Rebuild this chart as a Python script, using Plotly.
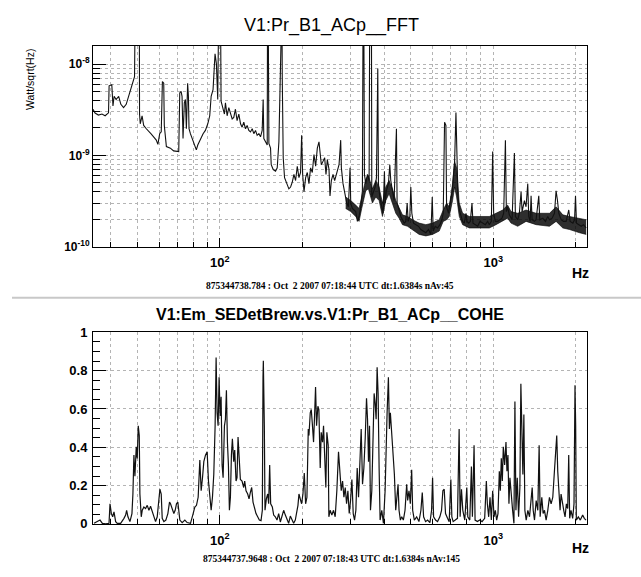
import plotly.graph_objects as go

# ---------------- FFT spectrum (top panel) ----------------
fft_freq = [
    34.4, 35.0, 36.0, 37.1, 38.1, 38.9, 39.2, 39.4, 40.3, 40.7,
    41.1, 41.8, 42.7, 43.5, 44.5, 45.5, 46.4, 47.3, 48.1, 48.4,
    48.8, 49.1, 50.8, 50.9, 51.2, 52.0, 52.7, 53.9, 55.0, 56.0,
    57.3, 58.6, 59.4, 60.3, 61.1, 61.7, 62.4, 62.7, 63.8, 66.0,
    67.8, 69.4, 70.8, 71.4, 72.2, 72.8, 73.4, 74.2, 74.9, 75.5,
    76.3, 76.8, 77.2, 78.1, 79.2, 80.8, 82.1, 83.1, 85.0, 86.9,
    88.6, 90.4, 91.9, 93.0, 94.5, 95.6, 96.1, 97.2, 98.3, 99.2,
    100.6, 101.1, 102.8, 104.0, 104.9, 106.4, 107.9, 109.4, 111.0, 112.5,
    114.1, 115.7, 117.4, 119.1, 120.7, 122.4, 124.2, 125.9, 127.7, 129.5,
    131.4, 133.2, 135.1, 137.0, 139.0, 140.9, 142.9, 144.1, 144.9, 147.0,
    149.1, 149.5, 150.3, 151.2, 153.3, 154.2, 156.8, 159.9, 162.2, 164.5,
    165.9, 167.3, 168.7, 169.2, 170.6, 172.5, 175.5, 178.9, 181.5, 184.1,
    186.7, 189.3, 192.0, 194.7, 197.4, 199.2, 200.9, 203.2, 206.0, 208.9,
    211.8, 214.8, 217.9, 221.0, 224.1, 227.3, 230.5, 232.4, 235.1, 238.4,
    241.8, 244.5, 247.3, 250.8, 252.9, 255.8, 259.4, 263.0,
    269.0, 272.9, 276.7, 278.3, 282.2, 287.1, 291.1, 295.2, 299.4, 301.1,
    305.3, 309.6, 314.0, 318.5, 323.0, 327.6, 332.2, 334.1, 336.0, 337.9,
    341.7, 346.6, 351.5, 353.4, 358.4, 359.5, 363.5, 369.7, 373.9, 378.1,
    380.2, 384.6, 391.1, 395.5, 399.9, 402.2, 406.7, 413.6, 418.3, 421.8,
    427.8, 433.8, 442.4, 444.9, 452.5, 458.9, 465.4, 472.1, 478.7, 484.2,
    488.2, 495.2, 499.3, 503.6, 510.7, 520.8, 532.7, 543.3, 554.1, 566.7,
    579.6, 591.1, 597.9, 602.9, 613.2, 625.4, 637.8, 648.6, 655.9, 663.3,
    670.9, 674.7, 686.1, 694.0, 705.8, 713.8, 721.9, 730.0, 736.2, 742.5,
    750.8, 761.5, 772.3, 783.3, 794.3, 801.0, 812.4, 823.9, 835.6, 842.6,
    859.4, 876.5, 893.9, 914.2, 934.9, 953.5, 966.7, 983.3, 994.5, 1002.8,
    1017, 1037, 1058, 1076, 1091, 1107, 1116, 1128, 1144, 1171,
    1194, 1204, 1228, 1245, 1263, 1274, 1299, 1317, 1336, 1347,
    1363, 1374, 1386, 1413, 1433, 1466, 1478, 1516, 1551, 1581,
    1604, 1640, 1673, 1696, 1716, 1735, 1770, 1805, 1845, 1887,
    1909, 1953, 1981, 1997, 2014, 2054, 2095, 2136, 2185,
]
fft_amp = [
    3.21e-9, 2.91e-9, 2.77e-9, 2.84e-9, 2.72e-9, 2.84e-9, 2.93e-9, 5.79e-9, 5.94e-9, 3.48e-9,
    4.45e-9, 4.10e-9, 4.45e-9, 3.63e-9, 3.34e-9, 3.63e-9, 4.45e-9, 5.25e-9, 6.19e-9, 7.00e-9,
    7.29e-9, 5e-8, 5e-8, 2.84e-9, 2.22e-9, 2.72e-9, 2.13e-9, 1.96e-9, 1.81e-9, 1.73e-9,
    1.60e-9, 1.47e-9, 1.32e-9, 1.73e-9, 1.81e-9, 6.45e-9, 6.19e-9, 2.13e-9, 1.25e-9, 1.20e-9,
    1.12e-9, 1.10e-9, 1.10e-9, 4.84e-9, 5.04e-9, 4.45e-9, 1.53e-9, 3.78e-9, 4.10e-9, 1.96e-9,
    6.19e-9, 4.45e-9, 1.96e-9, 1.73e-9, 1.53e-9, 1.35e-9, 1.15e-9, 1.30e-9, 1.53e-9, 1.73e-9,
    1.88e-9, 2.22e-9, 2.72e-9, 4.45e-9, 5.25e-9, 8.59e-9, 1.30e-8, 1.01e-8, 4.10e-9, 5e-8,
    5e-8, 3.94e-9, 3.08e-9, 2.84e-9, 3.78e-9, 2.72e-9, 3.34e-9, 2.95e-9, 2.51e-9, 2.61e-9,
    3.21e-9, 2.41e-9, 2.84e-9, 2.22e-9, 2.04e-9, 2.31e-9, 1.96e-9, 2.13e-9, 1.88e-9, 1.81e-9,
    1.96e-9, 1.73e-9, 1.88e-9, 1.66e-9, 1.73e-9, 1.60e-9, 1.88e-9, 4.10e-9, 1.53e-9, 1.41e-9,
    1.30e-9, 5e-8, 5e-8, 1.35e-9, 1.20e-9, 7.9e-10, 7.0e-10, 6.7e-10, 7.3e-10, 1.41e-9,
    3.21e-9, 5e-8, 5e-8, 7.29e-9, 9.4e-10, 5.7e-10, 4.9e-10, 4.3e-10, 4.5e-10, 5.1e-10,
    6.2e-10, 5.3e-10, 7.6e-10, 5.7e-10, 6.5e-10, 1.66e-9, 6.2e-10, 4.0e-10, 5.7e-10, 6.5e-10,
    4.9e-10, 7.3e-10, 6.5e-10, 1.02e-9, 7.6e-10, 1.20e-9, 1.41e-9, 1.02e-9, 7.9e-10, 8.6e-10,
    9.4e-10, 6.2e-10, 9.0e-10, 7.0e-10, 3.6e-10, 5.3e-10, 6.2e-10, 5.3e-10,
    6.7e-10, 7.9e-10, 1.47e-9, 7.3e-10, 4.9e-10, 3.8e-10, 3.0e-10, 2.73e-10, 7.3e-10, 3.0e-10,
    2.62e-10, 2.52e-10, 2.42e-10, 1.89e-10, 2.14e-10, 2.73e-10, 4.1e-10, 5e-8, 5e-8, 6.2e-10,
    4.9e-10, 6.2e-10, 5.3e-10, 5e-8, 5e-8, 3.5e-10, 3.8e-10, 4.5e-10, 5.7e-10, 8.95e-9,
    4.9e-10, 3.5e-10, 2.73e-10, 2.32e-10, 6.7e-10, 3.0e-10, 4.1e-10, 4.9e-10, 7.9e-10, 5.3e-10,
    4.1e-10, 3.2e-10, 1.96e-9, 3.0e-10, 2.52e-10, 2.14e-10, 1.97e-10, 1.81e-10, 1.89e-10, 3.0e-10,
    1.89e-10, 2.14e-10, 4.5e-10, 2.32e-10, 1.81e-10, 1.74e-10, 1.67e-10, 1.54e-10, 1.48e-10, 1.42e-10,
    1.54e-10, 1.36e-10, 3.5e-10, 1.48e-10, 1.67e-10, 1.60e-10, 1.74e-10, 1.97e-10, 2.32e-10, 2.31e-9,
    2.13e-9, 2.73e-10, 2.32e-10, 3.0e-10, 3.8e-10, 5.3e-10, 8.6e-10, 2.95e-9, 7.9e-10, 3.5e-10,
    2.52e-10, 2.14e-10, 1.89e-10, 1.81e-10, 2.32e-10, 1.89e-10, 1.81e-10, 1.89e-10, 3.0e-10, 1.81e-10,
    1.74e-10, 1.67e-10, 1.89e-10, 1.81e-10, 1.74e-10, 1.89e-10, 1.74e-10, 1.89e-10, 1.10e-9, 2.32e-10,
    1.89e-10, 1.89e-10, 1.97e-10, 2.05e-10, 2.32e-10, 1.47e-9, 2.42e-10, 2.73e-10, 2.23e-10, 1.97e-10,
    1.06e-9, 2.14e-10, 1.97e-10, 2.32e-10, 4.0e-10, 2.42e-10, 3.2e-10, 2.73e-10, 4.9e-10, 2.14e-10,
    1.89e-10, 3.6e-10, 1.97e-10, 1.89e-10, 1.97e-10, 3.6e-10, 1.97e-10, 2.05e-10, 1.89e-10, 2.14e-10,
    1.97e-10, 2.05e-10, 2.32e-10, 4.1e-10, 3.2e-10, 2.32e-10, 1.97e-10, 1.89e-10, 1.89e-10, 2.52e-10,
    1.89e-10, 1.81e-10, 1.97e-10, 3.6e-10, 1.81e-10, 1.74e-10, 1.67e-10, 1.74e-10, 1.60e-10,
]

# Envelope of the dense noise floor (upper / lower edge of the dark band)
band_freq = [
    288.6, 301.1, 314.0, 323.0, 330.3, 341.7, 349.4, 361.4, 371.7, 382.4,
    393.3, 404.5, 415.9, 427.8, 440.0, 452.5, 465.4, 485.6, 506.5, 535.6,
    566.7, 599.5, 634.1, 655.9, 674.7, 690.0, 709.6, 721.9, 733.9, 750.8,
    772.3, 817.1, 888.8, 966.7, 1022.8, 1081.9, 1128, 1160.4, 1228, 1317,
    1433, 1604, 1696, 1794.7, 1898.2, 2065.4, 2185,
]
band_hi = [
    3.5e-10, 3.2e-10, 2.85e-10, 2.62e-10, 3.5e-10, 5.5e-10, 6.0e-10, 4.3e-10, 5.3e-10, 4.5e-10,
    3.0e-10, 4.5e-10, 5.3e-10, 4.3e-10, 3.2e-10, 2.62e-10, 2.23e-10, 2.14e-10, 1.97e-10, 1.81e-10,
    1.74e-10, 1.81e-10, 1.97e-10, 2.52e-10, 3.0e-10, 2.73e-10, 4.9e-10, 8.6e-10, 7.3e-10, 3.0e-10,
    2.32e-10, 2.14e-10, 2.14e-10, 2.14e-10, 2.32e-10, 2.52e-10, 2.85e-10, 2.42e-10, 2.32e-10, 2.52e-10,
    2.32e-10, 2.32e-10, 2.73e-10, 2.23e-10, 2.14e-10, 2.05e-10, 1.97e-10,
]
band_lo = [
    2.62e-10, 2.42e-10, 2.14e-10, 1.89e-10, 2.62e-10, 4.1e-10, 4.3e-10, 3.0e-10, 3.5e-10, 3.2e-10,
    2.14e-10, 3.2e-10, 3.8e-10, 3.0e-10, 2.32e-10, 2.05e-10, 1.74e-10, 1.67e-10, 1.54e-10, 1.36e-10,
    1.31e-10, 1.36e-10, 1.48e-10, 1.89e-10, 1.97e-10, 2.14e-10, 3.2e-10, 4.5e-10, 3.5e-10, 2.14e-10,
    1.74e-10, 1.60e-10, 1.60e-10, 1.60e-10, 1.74e-10, 1.89e-10, 2.05e-10, 1.81e-10, 1.67e-10, 1.89e-10,
    1.74e-10, 1.67e-10, 1.89e-10, 1.60e-10, 1.54e-10, 1.42e-10, 1.36e-10,
]

# ---------------- Coherence (bottom panel) ----------------
cohe_freq = [
    34.70, 35.69, 36.50, 37.23, 38.28, 39.37, 39.70, 40.15, 40.60, 41.05,
    41.63, 42.21, 43.41, 44.65, 45.28, 45.66, 46.17, 46.95, 47.75, 48.14,
    48.55, 48.96, 49.51, 49.93, 50.35, 50.78, 51.06, 51.64, 52.07, 52.80,
    53.55, 54.31, 55.08, 55.85, 56.64, 57.44, 58.25, 59.07, 59.91, 60.41,
    61.09, 61.60, 62.47, 63.52, 64.60, 65.51, 66.06, 66.99, 67.94, 68.70,
    69.47, 70.26, 70.85, 71.46, 72.88, 74.53, 76.00, 78.16, 79.93, 81.06,
    82.20, 83.37, 84.55, 85.50, 86.47, 87.44, 88.67, 89.92, 90.93, 91.96,
    93.00, 94.03, 95.08, 96.16, 96.97, 97.78, 98.61, 99.44, 100.28, 101.13,
    101.98, 102.84, 104.00, 104.87, 105.76, 106.65, 107.55, 108.45, 109.37, 110.29,
    111.21, 112.45, 113.40, 114.68, 115.64, 116.62, 117.60, 118.93, 120.61, 122.31,
    123.34, 124.74, 126.50, 127.92, 129.37, 130.82, 132.30, 133.79, 135.67, 137.59,
    139.53, 141.50, 143.09, 143.89, 144.30, 145.51, 146.33, 148.00, 149.67, 150.93,
    152.20, 153.48, 155.66, 157.41, 159.62, 161.87, 164.18, 166.49, 168.84, 171.22,
    173.64, 176.08, 178.57, 181.09, 183.65, 186.22, 188.85, 191.50, 193.12, 194.74,
    196.93, 199.15, 201.40, 203.68, 205.97, 208.29, 210.62, 211.81, 214.19, 215.99,
    217.78, 220.21, 222.07, 223.95, 225.84, 228.38, 230.31, 232.90, 234.87, 237.51,
    239.52, 242.21, 244.22, 246.31, 249.09, 250.49, 253.31, 256.87, 260.49, 264.18,
    267.89, 271.67, 274.91, 277.99, 281.12, 284.30, 287.51, 290.75, 294.02, 297.33,
    300.68, 304.06, 307.49, 310.93, 314.42, 317.96, 321.56, 325.18, 328.83, 332.53,
    336.29, 340.08, 343.91, 346.82, 349.73, 352.68, 355.52, 359.53, 363.57, 366.64,
    369.75, 372.87, 376.00, 379.16, 382.36, 385.58, 391.03, 396.55, 402.13, 405.52,
    408.95, 413.47, 416.94, 420.35, 425.22, 430.00, 434.82, 439.71, 444.68, 448.44,
    452.20, 457.31, 462.45, 468.89, 475.54, 482.22, 486.26, 491.74, 497.30, 502.92,
    507.15, 514.31, 524.47, 534.64, 543.68, 549.82, 556.01, 565.41, 575.00, 586.38,
    594.67, 599.67, 604.73, 614.98, 625.28, 637.66, 646.67, 653.94, 661.28, 668.72,
    680.09, 689.65, 699.37, 705.27, 713.24, 727.13, 739.41, 749.90, 756.20, 764.74,
    773.37, 786.45, 799.76, 806.51, 820.18, 831.50, 838.52, 850.30, 857.51, 874.47,
    891.79, 909.43, 929.79, 942.90, 950.85, 961.56, 972.39, 983.38, 994.43, 1005.6,
    1016.9, 1028.4, 1040.0, 1051.7, 1060.6, 1069.5, 1078.5, 1087.6, 1099.9, 1112.3,
    1121.4, 1130.9, 1140.4, 1150.0, 1163.0, 1176.1, 1189.3, 1199.3, 1209.5, 1223.1,
    1236.8, 1250.4, 1260.9, 1271.6, 1282.3, 1293.1, 1304.0, 1318.7, 1337.3, 1356.1,
    1375.3, 1386.9, 1398.6, 1414.3, 1434.3, 1454.1, 1470.4, 1482.9, 1503.7, 1520.7,
    1537.9, 1559.5, 1581.5, 1603.8, 1626.4, 1649.4, 1672.2, 1691.0, 1705.3, 1719.7,
    1734.2, 1753.7, 1768.6, 1788.5, 1808.6, 1828.9, 1849.5, 1870.3, 1886.2, 1901.5,
    1922.9, 1950.0, 1972.0, 1988.5, 1999.8, 2011.0, 2045.0, 2079.8, 2120.9, 2150.8,
    2181.1,
]
cohe_val = [
    0.003, 0.012, 0.020, 0.003, 0.000, 0.003, 0.105, 0.054, 0.037, 0.063,
    0.012, 0.003, 0.003, 0.029, 0.046, 0.071, 0.037, 0.012, 0.054, 0.156,
    0.359, 0.249, 0.402, 0.342, 0.512, 0.461, 0.156, 0.037, 0.071, 0.088,
    0.080, 0.097, 0.071, 0.092, 0.063, 0.029, 0.012, 0.037, 0.139, 0.181,
    0.156, 0.029, 0.012, 0.020, 0.054, 0.114, 0.105, 0.080, 0.054, 0.071,
    0.105, 0.114, 0.063, 0.020, 0.007, 0.020, 0.007, 0.003, 0.054, 0.088,
    0.097, 0.139, 0.334, 0.173, 0.241, 0.325, 0.359, 0.376, 0.224, 0.156,
    0.071, 0.139, 0.258, 0.512, 0.868, 0.580, 0.512, 0.766, 0.563, 0.664,
    0.308, 0.241, 0.512, 0.546, 0.698, 0.427, 0.308, 0.071, 0.139, 0.359,
    0.444, 0.325, 0.385, 0.224, 0.241, 0.453, 0.376, 0.232, 0.224, 0.190,
    0.224, 0.173, 0.156, 0.131, 0.164, 0.190, 0.114, 0.080, 0.054, 0.037,
    0.020, 0.017, 0.071, 0.766, 0.851, 0.512, 0.071, 0.131, 0.156, 0.105,
    0.308, 0.105, 0.088, 0.046, 0.037, 0.020, 0.054, 0.010, 0.037, 0.071,
    0.046, 0.020, 0.003, 0.041, 0.020, 0.003, 0.020, 0.071, 0.097, 0.156,
    0.122, 0.105, 0.156, 0.266, 0.105, 0.139, 0.495, 0.461, 0.580, 0.597,
    0.529, 0.427, 0.563, 0.715, 0.512, 0.614, 0.597, 0.292, 0.478, 0.427,
    0.512, 0.308, 0.190, 0.478, 0.410, 0.037, 0.071, 0.046, 0.071, 0.037,
    0.173, 0.376, 0.241, 0.173, 0.224, 0.139, 0.190, 0.105, 0.173, 0.054,
    0.122, 0.232, 0.054, 0.020, 0.071, 0.292, 0.139, 0.308, 0.495, 0.207,
    0.292, 0.444, 0.656, 0.546, 0.325, 0.512, 0.071, 0.173, 0.444, 0.681,
    0.631, 0.546, 0.817, 0.681, 0.292, 0.020, 0.071, 0.003, 0.173, 0.444,
    0.580, 0.766, 0.495, 0.580, 0.461, 0.359, 0.258, 0.071, 0.139, 0.207,
    0.071, 0.020, 0.037, 0.020, 0.071, 0.207, 0.122, 0.173, 0.105, 0.283,
    0.071, 0.020, 0.037, 0.012, 0.071, 0.164, 0.037, 0.012, 0.020, 0.007,
    0.071, 0.241, 0.037, 0.020, 0.012, 0.037, 0.071, 0.173, 0.181, 0.054,
    0.029, 0.012, 0.232, 0.037, 0.012, 0.020, 0.029, 0.495, 0.037, 0.181,
    0.071, 0.020, 0.190, 0.037, 0.020, 0.300, 0.037, 0.410, 0.020, 0.012,
    0.020, 0.012, 0.029, 0.224, 0.105, 0.037, 0.139, 0.020, 0.173, 0.037,
    0.071, 0.020, 0.054, 0.275, 0.173, 0.342, 0.224, 0.402, 0.308, 0.427,
    0.275, 0.359, 0.105, 0.241, 0.139, 0.071, 0.003, 0.639, 0.071, 0.241,
    0.037, 0.190, 0.732, 0.512, 0.258, 0.571, 0.071, 0.020, 0.071, 0.037,
    0.139, 0.190, 0.071, 0.020, 0.122, 0.071, 0.410, 0.037, 0.139, 0.054,
    0.071, 0.020, 0.071, 0.139, 0.105, 0.139, 0.275, 0.393, 0.461, 0.275,
    0.173, 0.071, 0.156, 0.105, 0.071, 0.037, 0.105, 0.080, 0.359, 0.029,
    0.071, 0.029, 0.105, 0.724, 0.512, 0.020, 0.037, 0.020, 0.046, 0.029,
    0.020,
]

print(len(fft_freq), len(fft_amp), len(band_freq), len(band_hi), len(band_lo),
      len(cohe_freq), len(cohe_val))

# ---------------- layout constants ----------------
W, H = 641, 577
X_RANGE = [1.5366, 3.3424]
X_DOM = [93 / W, 587 / W]
TOP_DOM = [1 - 246 / H, 1 - 40 / H]
BOT_DOM = [1 - 530.7 / H, 1 - 334 / H]
SANS = "Liberation Sans, Arial, Helvetica, sans-serif"
SERIF = "Liberation Serif, Times New Roman, serif"
TICKFONT = dict(family=SANS, size=13, color="black", weight="bold")
GRID = "#b4b4b4"
MINOR_X = [40, 50, 60, 70, 80, 90, 200, 300, 400, 500, 600, 700, 800, 900, 2000]
MINOR_Y = [k * 1e-10 for k in range(2, 10)] + [k * 1e-9 for k in range(2, 10)]

fig = go.Figure()

fig.add_trace(go.Scatter(x=band_freq, y=band_lo, mode="lines",
                         line=dict(width=0.6, color="black"),
                         xaxis="x", yaxis="y", hoverinfo="skip", showlegend=False))
fig.add_trace(go.Scatter(x=band_freq, y=band_hi, mode="lines",
                         line=dict(width=0.6, color="black"),
                         fill="tonexty", fillcolor="rgba(0,0,0,0.82)",
                         xaxis="x", yaxis="y", hoverinfo="skip", showlegend=False))
fig.add_trace(go.Scatter(x=fft_freq, y=fft_amp, mode="lines",
                         line=dict(width=1.1, color="#111111"),
                         xaxis="x", yaxis="y", showlegend=False))
fig.add_trace(go.Scatter(x=cohe_freq, y=cohe_val, mode="lines",
                         line=dict(width=1.2, color="#111111"),
                         xaxis="x2", yaxis="y2", showlegend=False))


def xaxis(anchor):
    return dict(
        type="log", range=X_RANGE, domain=X_DOM, anchor=anchor,
        tickmode="array", tickvals=[100, 1000],
        ticktext=["10<sup>2</sup>", "10<sup>3</sup>"],
        ticks="inside", ticklen=9, tickwidth=1, tickcolor="black",
        tickfont=TICKFONT, ticklabelstandoff=4,
        showline=True, linecolor="black", linewidth=1, mirror=True,
        showgrid=True, gridcolor=GRID, griddash="dot", gridwidth=1,
        zeroline=False, fixedrange=True,
        minor=dict(tickmode="array", tickvals=MINOR_X, ticks="inside",
                   ticklen=5, tickcolor="black", showgrid=True,
                   gridcolor=GRID, griddash="dot", gridwidth=1),
    )


fig.update_layout(
    width=W, height=H,
    margin=dict(l=0, r=0, t=0, b=0),
    paper_bgcolor="white", plot_bgcolor="white",
    showlegend=False,
    xaxis=xaxis("y"),
    xaxis2=xaxis("y2"),
    yaxis=dict(
        type="log", range=[-10, -7.80], domain=TOP_DOM, anchor="x",
        tickmode="array", tickvals=[1e-10, 1e-9, 1e-8],
        ticktext=["10<sup>-10</sup>", "10<sup>-9</sup>", "10<sup>-8</sup>"],
        ticks="inside", ticklen=13, tickcolor="black",
        tickfont=dict(family=SANS, size=12, color="black", weight="bold"),
        showline=True, linecolor="black", linewidth=1, mirror=True,
        showgrid=True, gridcolor=GRID, griddash="dot",
        zeroline=False, fixedrange=True,
        minor=dict(tickmode="array", tickvals=MINOR_Y, ticks="inside",
                   ticklen=7, tickcolor="black", showgrid=True,
                   gridcolor=GRID, griddash="dot"),
    ),
    yaxis2=dict(
        range=[0, 1], domain=BOT_DOM, anchor="x2",
        tickmode="array", tickvals=[0, 0.2, 0.4, 0.6, 0.8, 1.0],
        ticktext=["0", "0.2", "0.4", "0.6", "0.8", "1"],
        ticks="inside", ticklen=13, tickcolor="black",
        tickfont=TICKFONT, ticklabelstandoff=2,
        showline=True, linecolor="black", linewidth=1, mirror=True,
        showgrid=True, gridcolor=GRID, griddash="dot",
        zeroline=False, fixedrange=True,
        minor=dict(dtick=0.05, ticks="inside", ticklen=7, tickcolor="black",
                   showgrid=False),
    ),
)

ann = [
    dict(text="V1:Pr_B1_ACp__FFT", x=331 / W, y=1 - 19 / H,
         font=dict(family=SANS, size=18, color="black")),
    dict(text="V1:Em_SEDetBrew.vs.V1:Pr_B1_ACp__COHE", x=330 / W, y=1 - 316 / H,
         font=dict(family=SANS, size=16, color="black", weight="bold")),
    dict(text="875344738.784 : Oct  2 2007 07:18:44 UTC dt:1.6384s nAv:45",
         x=329.5 / W, y=1 - 286.5 / H,
         font=dict(family=SERIF, size=9.5, color="black", weight="bold")),
    dict(text="875344737.9648 : Oct  2 2007 07:18:43 UTC dt:1.6384s nAv:145",
         x=331 / W, y=1 - 567 / H,
         font=dict(family=SERIF, size=9.5, color="black", weight="bold")),
    dict(text="Hz", x=580 / W, y=1 - 273 / H,
         font=dict(family=SANS, size=14, color="black", weight="bold")),
    dict(text="Hz", x=580 / W, y=1 - 555 / H,
         font=dict(family=SANS, size=14, color="black", weight="bold")),
    dict(text="Watt/sqrt(Hz)", x=30 / W, y=1 - 75 / H, textangle=-90,
         font=dict(family=SANS, size=10.5, color="black")),
]
for a in ann:
    a.update(xref="paper", yref="paper", showarrow=False,
             xanchor="center", yanchor="middle")
fig.update_layout(annotations=ann)

fig.add_shape(type="line", xref="paper", yref="paper",
              x0=12 / W, x1=1.0, y0=1 - 298.5 / H, y1=1 - 298.5 / H,
              line=dict(color="#c8c8c8", width=2))

fig.write_html("out.html")
